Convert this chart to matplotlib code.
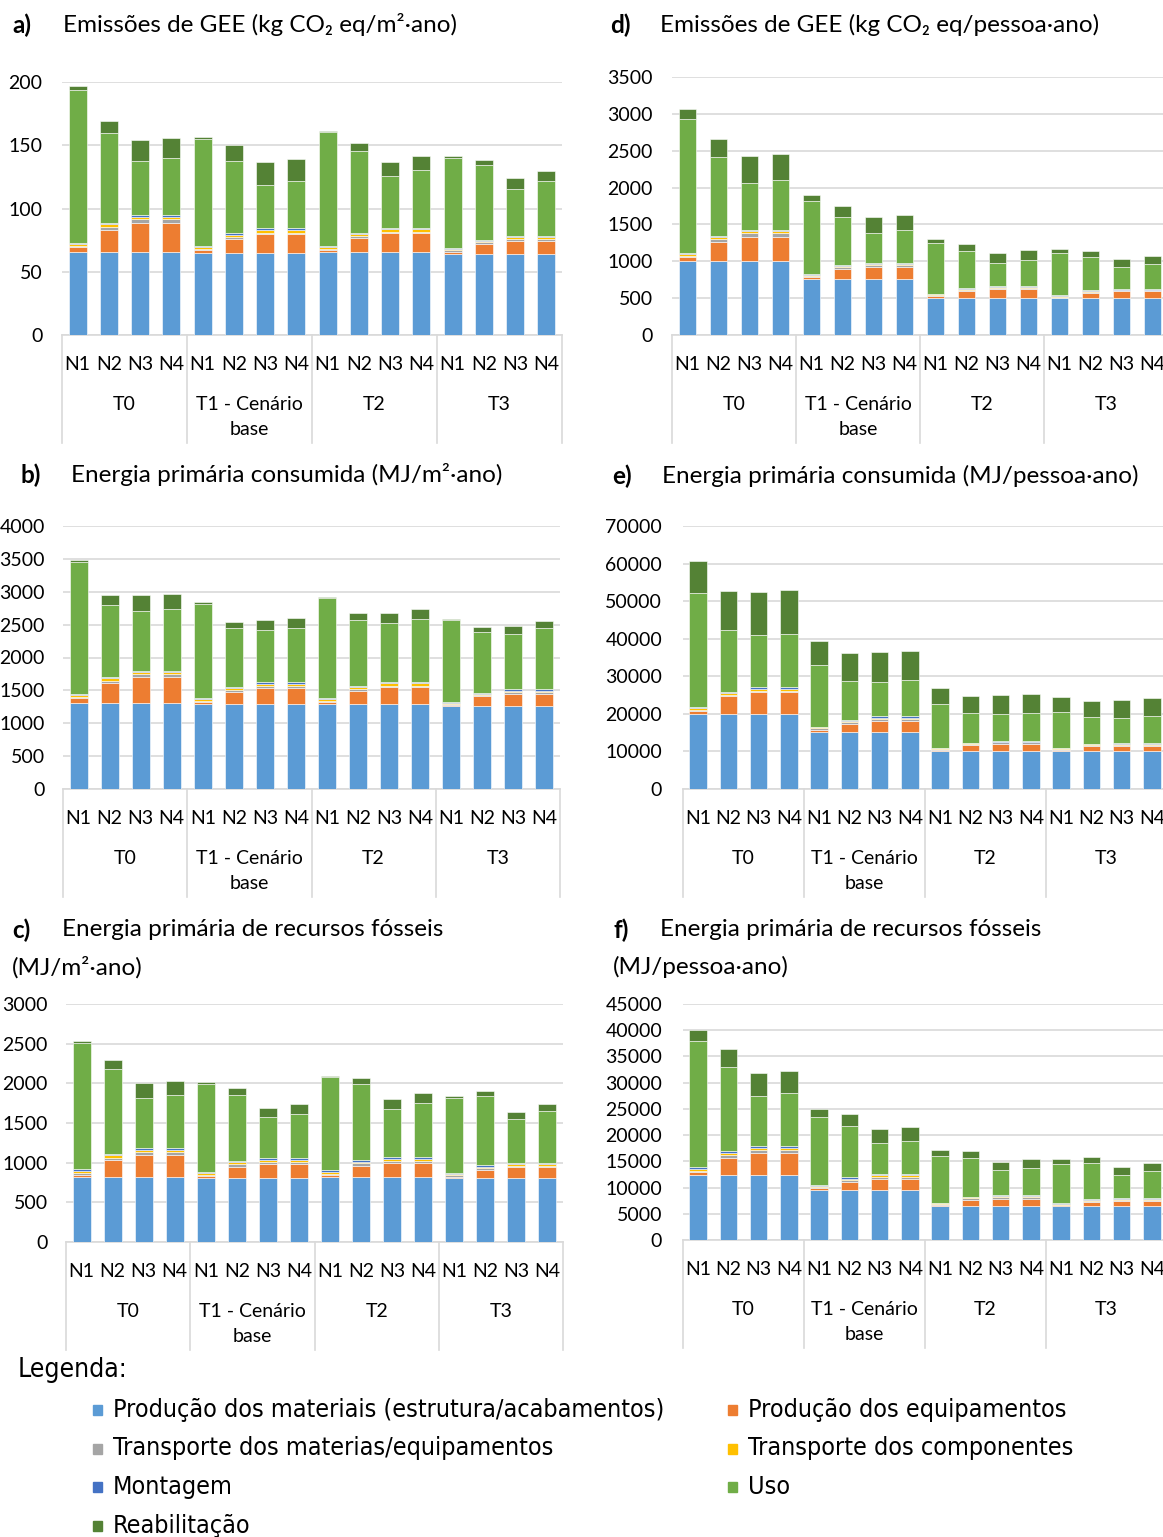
import matplotlib
matplotlib.use('Agg')
import matplotlib.pyplot as plt
from matplotlib.patches import Rectangle
from matplotlib.transforms import blended_transform_factory
import numpy as np

plt.rcParams['font.family'] = ['Lato', 'DejaVu Sans']

W, H = 1163, 1537

niveis = ['N1', 'N2', 'N3', 'N4'] * 4
grupos = ['T0', 'T1 - Cenário\nbase', 'T2', 'T3']

etapas = ['Produção dos materiais (estrutura/acabamentos)',
          'Produção dos equipamentos',
          'Transporte dos materias/equipamentos',
          'Transporte dos componentes',
          'Montagem',
          'Uso',
          'Reabilitação']
cores = ['#5B9BD5', '#ED7D31', '#A5A5A5', '#FFC000', '#4472C4', '#70AD47', '#548235']

# a) GEE (kg CO2 eq/m2.ano)
a_mat = [66, 66, 66, 66, 64.7, 64.7, 64.7, 64.7, 65.3, 65.3, 65.3, 65.3, 63.7, 63.7, 63.7, 63.7]
a_equip = [3.5, 17, 22.7, 22.7, 2.2, 11.1, 14.8, 14.8, 2.1, 11, 15, 15, 2.1, 7.9, 10.8, 10.8]
a_tmat = [1, 2.5, 3, 3, 0.8, 1.8, 1.5, 1.5, 0.8, 1.9, 1.3, 1.3, 1, 1.6, 1.3, 1.3]
a_tcomp = [1.5, 2, 1.8, 1.8, 1.8, 1.6, 1.9, 1.9, 1.3, 1.5, 1.8, 1.8, 1.1, 1.3, 1.6, 1.6]
a_mont = [1, 1.1, 1.1, 1.1, 1, 1.1, 1.3, 1.3, 1, 0.8, 1.1, 1.1, 0.8, 0.8, 1, 1]
a_uso = [121, 71.3, 42.9, 45, 84.2, 57.1, 34.2, 37.4, 89.8, 64.8, 41, 45.8, 71.6, 58.9, 37.4, 43.2]
a_reab = [2.5, 9.2, 16.8, 16.3, 1.6, 12.6, 18.2, 17.3, 1.3, 6.3, 11.1, 11, 1, 4.5, 8.1, 8.4]

# b) energia primaria consumida (MJ/m2.ano)
b_mat = [1310] * 4 + [1294] * 4 + [1294] * 4 + [1264] * 4
b_equip = [71, 305, 397, 397, 31, 184, 245, 245, 31, 194, 255, 255, 20, 153, 178, 178]
b_tmat = [20, 35, 36, 36, 15, 30, 30, 30, 15, 30, 25, 25, 15, 20, 26, 26]
b_tcomp = [26, 35, 30, 30, 26, 26, 31, 31, 31, 26, 31, 31, 16, 10, 30, 30]
b_mont = [15, 17, 26, 26, 20, 20, 20, 20, 15, 15, 15, 15, 15, 15, 20, 20]
b_uso = [2018, 1101, 907, 937, 1427, 892, 800, 831, 1513, 1009, 902, 963, 1233, 928, 841, 928]
b_reab = [30, 152, 239, 235, 25, 97, 153, 153, 21, 102, 158, 153, 20, 71, 117, 102]

# c) energia primaria de recursos fosseis (MJ/m2.ano)
c_mat = [819] * 4 + [803] * 4 + [819] * 4 + [807] * 4
c_equip = [30, 210, 282, 282, 29, 147, 180, 180, 30, 143, 177, 177, 17, 105, 143, 143]
c_tmat = [17, 34, 29, 29, 8, 29, 25, 25, 13, 30, 25, 25, 16, 17, 12, 12]
c_tcomp = [29, 34, 34, 34, 30, 25, 30, 30, 25, 21, 29, 29, 13, 21, 21, 21]
c_mont = [21, 16, 25, 25, 17, 17, 21, 21, 16, 16, 21, 21, 13, 16, 17, 17]
c_uso = [1588, 1063, 622, 664, 1105, 832, 512, 550, 1173, 958, 610, 681, 953, 874, 550, 647]
c_reab = [25, 122, 189, 172, 21, 84, 118, 126, 16, 80, 126, 122, 17, 63, 93, 92]

# d) GEE (kg CO2 eq/pessoa.ano)
d_mat = [1000] * 4 + [756] * 4 + [507] * 4 + [498] * 4
d_equip = [55, 263, 335, 335, 27, 136, 172, 172, 18, 95, 122, 122, 9, 68, 95, 95]
d_tmat = [18, 36, 46, 46, 18, 27, 23, 23, 18, 14, 14, 14, 9, 13, 14, 14]
d_tcomp = [27, 27, 27, 27, 14, 18, 18, 18, 9, 9, 9, 9, 14, 14, 9, 9]
d_mont = [14, 18, 18, 18, 13, 14, 13, 13, 9, 9, 9, 9, 13, 14, 9, 9]
d_uso = [1815, 1064, 638, 674, 987, 652, 403, 439, 684, 507, 317, 353, 566, 452, 294, 339]
d_reab = [136, 249, 362, 358, 91, 153, 218, 209, 59, 90, 136, 136, 54, 86, 109, 113]

# e) energia primaria consumida (MJ/pessoa.ano)
e_mat = [20000] * 4 + [15200] * 4 + [10200] * 4 + [10200] * 4
e_equip = [800, 4650, 5700, 5700, 550, 2230, 2940, 2940, 270, 1600, 1870, 1870, 180, 1160, 1340, 1340]
e_tmat = [270, 440, 450, 450, 450, 360, 530, 530, 270, 270, 360, 360, 360, 360, 270, 270]
e_tcomp = [360, 360, 530, 530, 180, 270, 360, 360, 90, 90, 180, 180, 90, 180, 270, 270]
e_mont = [270, 270, 450, 450, 180, 180, 270, 270, 90, 90, 180, 180, 90, 90, 90, 90]
e_uso = [30600, 16700, 13960, 14230, 16530, 10580, 9250, 9610, 11760, 8030, 7220, 7490, 9630, 7220, 6780, 7310]
e_reab = [8450, 10320, 11390, 11560, 6400, 7290, 8000, 7920, 4180, 4540, 4980, 5070, 3830, 4180, 4630, 4710]

# f) energia primaria de recursos fosseis (MJ/pessoa.ano)
f_mat = [12400] * 4 + [9530] * 4 + [6480] * 4 + [6480] * 4
f_equip = [630, 3240, 4250, 4250, 320, 1530, 2100, 2100, 250, 1210, 1400, 1400, 130, 760, 950, 950]
f_tmat = [190, 510, 450, 450, 190, 320, 380, 380, 130, 320, 380, 380, 130, 250, 250, 250]
f_tcomp = [380, 450, 440, 440, 250, 320, 320, 320, 130, 130, 130, 130, 130, 190, 190, 190]
f_mont = [250, 320, 320, 320, 190, 250, 190, 190, 130, 60, 130, 130, 130, 130, 130, 130]
f_uso = [24090, 16070, 9600, 10110, 12970, 9850, 5980, 6420, 8960, 7370, 4830, 5270, 7560, 6810, 4390, 5090]
f_reab = [2030, 3430, 4450, 4320, 1530, 2290, 2730, 2670, 1080, 1400, 1590, 1720, 890, 1270, 1460, 1530]

paineis = [
    # letra, titulo, segunda linha, series, ymax, passo, caixa (px), posicao do titulo (px), pad
    ('a)', 'Emissões de GEE (kg CO₂ eq/m²·ano)', None,
     [a_mat, a_equip, a_tmat, a_tcomp, a_mont, a_uso, a_reab], 200, 50,
     (62, 82, 562, 335), (12, 63, 25), 14),
    ('b)', 'Energia primária consumida (MJ/m²·ano)', None,
     [b_mat, b_equip, b_tmat, b_tcomp, b_mont, b_uso, b_reab], 4000, 500,
     (63, 526, 560, 789), (20, 71, 475), 13),
    ('c)', 'Energia primária de recursos fósseis', '(MJ/m²·ano)',
     [c_mat, c_equip, c_tmat, c_tcomp, c_mont, c_uso, c_reab], 3000, 500,
     (66, 1004, 563, 1242), (12, 62, 930), 13),
    ('d)', 'Emissões de GEE (kg CO₂ eq/pessoa·ano)', None,
     [d_mat, d_equip, d_tmat, d_tcomp, d_mont, d_uso, d_reab], 3500, 500,
     (672, 77, 1168, 335), (610, 660, 25), 14),
    ('e)', 'Energia primária consumida (MJ/pessoa·ano)', None,
     [e_mat, e_equip, e_tmat, e_tcomp, e_mont, e_uso, e_reab], 70000, 10000,
     (683, 526, 1167, 789), (612, 662, 476), 15),
    ('f)', 'Energia primária de recursos fósseis', '(MJ/pessoa·ano)',
     [f_mat, f_equip, f_tmat, f_tcomp, f_mont, f_uso, f_reab], 45000, 5000,
     (683, 1004, 1167, 1240), (613, 660, 930), 15),
]

fig = plt.figure(figsize=(W / 100, H / 100), dpi=100)

for letra, titulo, linha2, series, ymax, passo, caixa, pos, pad in paineis:
    x0, y0, x1, y1 = caixa
    ax = fig.add_axes([x0 / W, 1 - y1 / H, (x1 - x0) / W, (y1 - y0) / H])
    x = np.arange(len(niveis))
    base = np.zeros(len(niveis))
    for vals, cor in zip(series, cores):
        ax.bar(x, vals, 0.58, bottom=base, color=cor, edgecolor='white', linewidth=0.4, zorder=3)
        base += np.array(vals)

    ax.set_xlim(-0.5, len(niveis) - 0.5)
    ax.set_ylim(0, ymax)
    ax.set_yticks(np.arange(0, ymax + 1, passo))
    ax.grid(axis='y', color='#D9D9D9', linewidth=1.2, zorder=0)
    for lado in ['top', 'right', 'left']:
        ax.spines[lado].set_visible(False)
    ax.spines['bottom'].set_color('#D9D9D9')
    ax.spines['bottom'].set_linewidth(1.2)
    ax.tick_params(axis='y', length=0, pad=pad, labelsize=14)
    ax.set_xticks(x)
    ax.set_xticklabels(niveis)
    ax.tick_params(axis='x', length=0, pad=15, labelsize=14)

    # grupos T0..T3 e separadores
    trans = blended_transform_factory(ax.transData, ax.transAxes)
    fundo = -108 / (y1 - y0)
    for g, nome in enumerate(grupos):
        ax.annotate(nome, xy=(g * 4 + 1.5, 0), xycoords=trans, xytext=(0, -61),
                    textcoords='offset pixels', ha='center', va='top', fontsize=14,
                    linespacing=1.58)
    for g in range(len(grupos) + 1):
        ax.plot([g * 4 - 0.5] * 2, [0, fundo], transform=trans, color='#D9D9D9',
                linewidth=1.2, clip_on=False)

    lx, tx, ty = pos
    fig.text(lx / W, 1 - ty / H, letra, fontsize=17.5, fontweight='bold', va='center')
    fig.text(tx / W, 1 - ty / H, titulo, fontsize=17.5, va='center')
    if linha2:
        fig.text(lx / W, 1 - (ty + 37) / H, linha2, fontsize=17.5, va='center')

# legenda
fonte_leg = dict(family='DejaVu Sans', stretch='condensed')
fig.text(18 / W, 1 - 1370 / H, 'Legenda:', fontsize=19, va='center', **fonte_leg)
colunas = [0, 1, 0, 1, 0, 1, 0]
linhas = [0, 0, 1, 1, 2, 2, 3]
for nome, cor, c, l in zip(etapas, cores, colunas, linhas):
    xq = 93 if c == 0 else 728
    yc = 1410 + l * 38.5
    fig.add_artist(Rectangle((xq / W, 1 - (yc + 5) / H), 9 / W, 10 / H,
                             transform=fig.transFigure, color=cor))
    fig.text((xq + 20) / W, 1 - yc / H, nome, fontsize=18, va='center', **fonte_leg)

fig.savefig('out.png', dpi=100)
